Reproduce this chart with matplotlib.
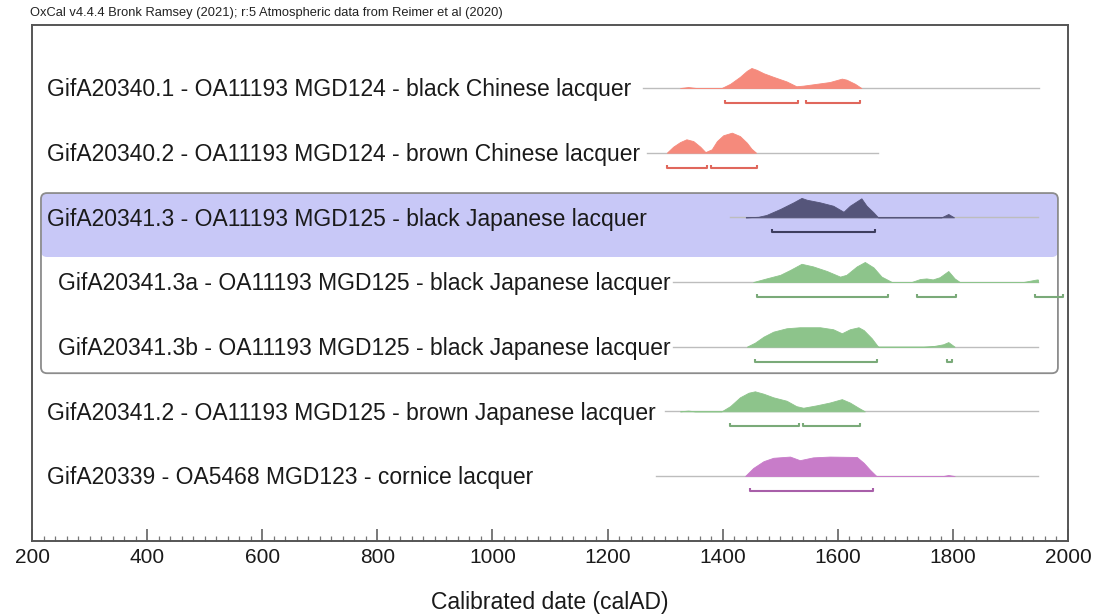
import matplotlib
matplotlib.use("Agg")
import matplotlib.pyplot as plt
from matplotlib.patches import FancyBboxPatch, Rectangle
from matplotlib.transforms import blended_transform_factory, offset_copy

plt.rcParams['font.family'] = ['Liberation Sans', 'DejaVu Sans']

# ---- sample labels (top to bottom) ----
labels = [
    "GifA20340.1 - OA11193 MGD124 - black Chinese lacquer",
    "GifA20340.2 - OA11193 MGD124 - brown Chinese lacquer",
    "GifA20341.3 - OA11193 MGD125 - black Japanese lacquer",
    "GifA20341.3a - OA11193 MGD125 - black Japanese lacquer",
    "GifA20341.3b - OA11193 MGD125 - black Japanese lacquer",
    "GifA20341.2 - OA11193 MGD125 - brown Japanese lacquer",
    "GifA20339 - OA5468 MGD123 - cornice lacquer",
]
indented = [False, False, False, True, True, False, False]

# extent of each calibrated range line (calAD)
line_start = [1261, 1268, 1413, 1314, 1314, 1300, 1285]
line_end = [1950, 1670, 1948, 1948, 1948, 1948, 1948]

# ---- probability densities (relative height, peak = 1) ----
yr_340_1 = [1326, 1340, 1355, 1398, 1413, 1430, 1442, 1450, 1459, 1471, 1488,
            1511, 1528, 1540, 1563, 1586, 1607, 1615, 1630, 1641]
p_340_1 = [0, 0.05, 0, 0, 0.21, 0.56, 0.86, 1.0, 0.91, 0.74, 0.56,
           0.33, 0.09, 0.12, 0.21, 0.30, 0.47, 0.42, 0.21, 0]

yr_340_2 = [1303, 1314, 1326, 1337, 1349, 1361, 1370, 1381, 1390, 1401, 1416,
            1430, 1442, 1450, 1458]
p_340_2 = [0, 0.30, 0.53, 0.67, 0.58, 0.30, 0.03, 0.17, 0.58, 0.87, 1.0,
           0.83, 0.50, 0.20, 0]

yr_341_3 = [1440, 1462, 1476, 1500, 1523, 1537, 1546, 1569, 1592, 1610, 1621,
            1641, 1650, 1662, 1670, 1780, 1792, 1802]
p_341_3 = [0, 0.03, 0.12, 0.42, 0.75, 0.97, 0.88, 0.75, 0.58, 0.28, 0.58,
           0.95, 0.58, 0.25, 0, 0, 0.17, 0]

yr_341_3a = [1453, 1476, 1500, 1517, 1537, 1557, 1581, 1604, 1615, 1633, 1647,
             1662, 1676, 1694, 1728, 1743, 1754, 1765, 1777, 1792, 1803, 1812,
             1922, 1946, 1948]
p_341_3a = [0, 0.18, 0.36, 0.60, 0.91, 0.78, 0.55, 0.27, 0.36, 0.78, 1.0,
            0.73, 0.27, 0, 0, 0.15, 0.18, 0.13, 0.24, 0.55, 0.18, 0,
            0, 0.13, 0.12]

yr_341_3b = [1442, 1456, 1471, 1488, 1511, 1534, 1569, 1592, 1607, 1621, 1636,
             1645, 1659, 1670, 1749, 1766, 1783, 1792, 1803]
p_341_3b = [0, 0.20, 0.50, 0.75, 0.92, 0.97, 0.97, 0.87, 0.67, 0.87, 0.97,
            0.83, 0.42, 0, 0, 0.03, 0.12, 0.23, 0]

yr_341_2 = [1326, 1340, 1352, 1398, 1413, 1430, 1445, 1456, 1471, 1488, 1511,
            1528, 1540, 1563, 1586, 1607, 1621, 1636, 1647]
p_341_2 = [0, 0.04, 0, 0, 0.26, 0.70, 0.93, 1.0, 0.88, 0.70, 0.53,
           0.26, 0.18, 0.30, 0.44, 0.61, 0.44, 0.18, 0]

yr_339 = [1439, 1453, 1471, 1488, 1517, 1534, 1557, 1586, 1633, 1645, 1656,
          1667, 1783, 1792, 1803]
p_339 = [0, 0.40, 0.74, 0.91, 0.97, 0.79, 0.93, 0.97, 0.95, 0.66, 0.31,
         0, 0, 0.05, 0]

density_years = [yr_340_1, yr_340_2, yr_341_3, yr_341_3a, yr_341_3b, yr_341_2, yr_339]
density_probs = [p_340_1, p_340_2, p_341_3, p_341_3a, p_341_3b, p_341_2, p_339]

# ---- highest posterior density ranges (calAD) ----
ranges_340_1 = [(1404, 1531), (1545, 1638)]
ranges_340_2 = [(1304, 1372), (1380, 1459)]
ranges_341_3 = [(1485, 1665)]
ranges_341_3a = [(1460, 1688), (1738, 1806), (1943, 1992)]
ranges_341_3b = [(1456, 1669), (1789, 1798)]
ranges_341_2 = [(1413, 1533), (1540, 1638)]
ranges_339 = [(1448, 1661)]
hpd_ranges = [ranges_340_1, ranges_340_2, ranges_341_3, ranges_341_3a,
              ranges_341_3b, ranges_341_2, ranges_339]

# ---- colours ----
fill_colors = ["#F58A7C", "#F58A7C", "#55557A", "#8DC48B", "#8DC48B", "#8DC48B", "#C87CC9"]
range_colors = ["#E0675C", "#E0675C", "#3E3E5E", "#7AAA79", "#7AAA79", "#7AAA79", "#A85FA9"]
line_color = "#BDBDBD"
highlight = "#C8C8F7"

# x axis ticks
major_ticks = list(range(200, 2001, 200))
minor_ticks = list(range(200, 2001, 20))

# ---- figure ----
W, H = 1099, 615
fig = plt.figure(figsize=(W / 100, H / 100), dpi=100)
ax = fig.add_axes([32 / W, 74 / H, 1036 / W, 516 / H])
ax.set_xlim(200, 2000)
ax.set_ylim(7.005, -0.975)

peak_h = 0.31      # height of a unit-density peak (row units)
range_off = 0.232  # range bars below the baseline
cap_h = 0.045

# grouped rows: rounded frame with a highlighted header row
px_per_yr = 1036 / 1800.0
px_per_row = 516 / 7.98
aspect = px_per_yr / px_per_row
r = 6 / px_per_yr
box_x0, box_x1 = 215.6, 1982.5
box_top, hl_bottom, box_bottom = 1.624, 2.52, 4.41
ax.add_patch(FancyBboxPatch((box_x0 + r, box_top + r * aspect),
                            box_x1 - box_x0 - 2 * r, (hl_bottom - box_top) - r * aspect,
                            boxstyle=f"round,pad={r}", mutation_aspect=aspect,
                            facecolor=highlight, edgecolor="none", zorder=0))
ax.add_patch(Rectangle((box_x0, box_top + 0.3), box_x1 - box_x0, hl_bottom - box_top - 0.3,
                       facecolor=highlight, edgecolor="none", zorder=0))
ax.add_patch(FancyBboxPatch((box_x0 + r, box_top + r * aspect),
                            box_x1 - box_x0 - 2 * r, (box_bottom - box_top) - 2 * r * aspect,
                            boxstyle=f"round,pad={r}", mutation_aspect=aspect,
                            facecolor="none", edgecolor="#8C8C8C", lw=1.3, zorder=1))

label_tf = offset_copy(blended_transform_factory(ax.transAxes, ax.transData),
                       fig=fig, y=-8.3, units="dots")

for i, lab in enumerate(labels):
    yb = i
    ax.plot([line_start[i], line_end[i]], [yb, yb], color=line_color, lw=1.0, zorder=2)
    ys = [yb - p * peak_h for p in density_probs[i]]
    ax.fill_between(density_years[i], ys, yb, color=fill_colors[i], lw=0.6,
                    edgecolor=fill_colors[i], zorder=3)
    yr_bar = yb + range_off
    for a, b in hpd_ranges[i]:
        ax.plot([a, a, b, b], [yr_bar - cap_h, yr_bar, yr_bar, yr_bar - cap_h],
                color=range_colors[i], lw=1.5, zorder=3, clip_on=False,
                solid_capstyle="butt")
    xt = 0.0251 if indented[i] else 0.0145
    ax.text(xt, yb, lab, transform=label_tf, fontsize=16.5, color="#1A1A1A",
            ha="left", va="baseline", zorder=4)

# ---- axis styling ----
for s in ax.spines.values():
    s.set_color("#555555")
    s.set_linewidth(1.4)
ax.set_yticks([])
ax.set_xticks(major_ticks)
ax.set_xticks(minor_ticks, minor=True)
ax.tick_params(axis="x", which="major", direction="in", length=9, width=1.1,
               color="#555555", labelsize=15, pad=5, labelcolor="#1A1A1A")
ax.tick_params(axis="x", which="minor", direction="in", length=3.5, width=0.9,
               color="#777777")
ax.set_xlabel("Calibrated date (calAD)", fontsize=16.5, color="#1A1A1A")
ax.xaxis.set_label_coords(0.5, -0.097)

fig.text(30 / W, 1 - 13 / H,
         "OxCal v4.4.4 Bronk Ramsey (2021); r:5 Atmospheric data from Reimer et al (2020)",
         fontsize=9.3, color="#222222", ha="left", va="center")

fig.savefig("out.png", dpi=100)
